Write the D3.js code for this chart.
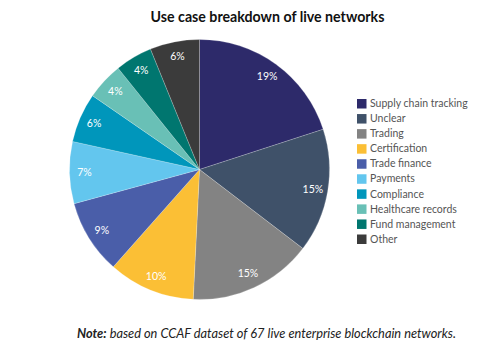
<!DOCTYPE html>
<html><head><meta charset="utf-8">
<script src="https://cdn.jsdelivr.net/npm/d3@7"></script>
<style>body{margin:0;background:#fff;} svg{display:block;}</style>
</head><body>
<svg id="c" width="503" height="355"></svg>
<script>
const categories = ["Supply chain tracking","Unclear","Trading","Certification","Trade finance","Payments","Compliance","Healthcare records","Fund management","Other"];
const counts = [13,10,10,7,6,5,4,3,3,4];
const labels = ["19%","15%","15%","10%","9%","7%","6%","4%","4%","6%"];
const colors = ["#2d2a6a","#3f5169","#838383","#fbbf35","#4a5ea9","#63c6ee","#0096bb","#69c0b6","#00766f","#3b3b3b"];

const svg = d3.select("#c");
const cx = 199.5, cy = 169.5, r = 130;

svg.append("text").attr("x", 267.5).attr("y", 22).attr("text-anchor","middle")
  .attr("font-family","Lato").attr("font-weight","bold").attr("font-size", 14.2).attr("fill","#111")
  .text("Use case breakdown of live networks");

const pie = d3.pie().sort(null).value(d => d)(counts);
const arc = d3.arc().innerRadius(0).outerRadius(r);
const labelArc = d3.arc().innerRadius(115).outerRadius(115);
const g = svg.append("g").attr("transform", `translate(${cx},${cy})`);
g.selectAll("path").data(pie).join("path").attr("d", arc)
  .attr("fill", (d,i) => colors[i]).attr("stroke","#fff").attr("stroke-width",0.5).attr("stroke-opacity",0.4);
g.selectAll("text").data(pie).join("text")
  .attr("transform", d => `translate(${labelArc.centroid(d)})`)
  .attr("text-anchor","middle").attr("dy","0.35em")
  .attr("font-family","Lato").attr("font-size", 10.5).attr("fill","#fff")
  .text((d,i) => labels[i]);

const y = d3.scalePoint().domain(categories).range([103.5, 239]);
const leg = svg.append("g");
leg.selectAll("rect").data(categories).join("rect")
  .attr("x", 357).attr("y", d => y(d) - 4.5).attr("width", 9.5).attr("height", 9.5)
  .attr("fill", (d,i) => colors[i]);
leg.selectAll("text").data(categories).join("text")
  .attr("x", 370).attr("y", d => y(d)).attr("dy","0.35em")
  .attr("font-family","Lato").attr("font-size", 10.5).attr("fill","#555")
  .text(d => d);

const note = svg.append("text").attr("x", 77).attr("y", 338)
  .attr("font-family","Lato").attr("font-style","italic").attr("font-size", 12.8).attr("fill","#222");
note.append("tspan").attr("font-weight","bold").text("Note:");
note.append("tspan").text(" based on CCAF dataset of 67 live enterprise blockchain networks.");
</script>
</body></html>
